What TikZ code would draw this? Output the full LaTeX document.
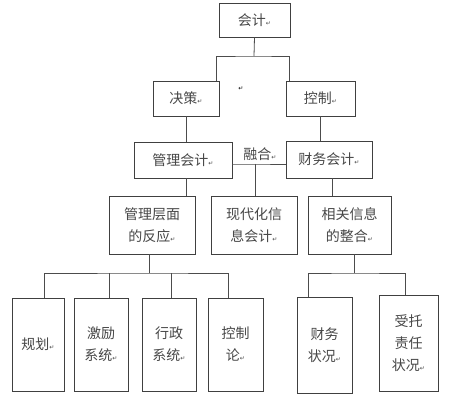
\documentclass[tikz,border=0pt]{standalone}
\usepackage{fontspec}
\newfontfamily\cjk{Noto Sans CJK SC}
\newfontfamily\djv{DejaVu Sans}
\newcommand\retmk{{\djv\fontsize{6}{6}\selectfont ↵}}
\begin{document}
\begin{tikzpicture}[x=1pt,y=-1pt,
  box/.style={draw=black!75, line width=0.9pt, fill=white, inner sep=0pt, align=center,
    font=\cjk\fontsize{14}{22}\selectfont, text=black!72},
  ln/.style={draw=black!70, line width=0.8pt},
  lbl/.style={inner sep=0pt, font=\cjk\fontsize{14}{22}\selectfont, text=black!72}]
\useasboundingbox[fill=white] (0,0) rectangle (450,401);
% boxes
\node[box, minimum width=71, minimum height=34] (kj) at (254.5,20) {会计\retmk};
\node[box, minimum width=66, minimum height=35] (jc) at (186,98.5) {决策\retmk};
\node[box, minimum width=69, minimum height=35] (kz) at (320.5,98.5) {控制\retmk};
\node[box, minimum width=98, minimum height=36] (glkj) at (183,160) {管理会计\retmk};
\node[box, minimum width=86, minimum height=37] (cwkj) at (329,159.5) {财务会计\retmk};
\node[box, minimum width=86, minimum height=58] (glcm) at (152,225) {管理层面\\的反应\retmk};
\node[box, minimum width=86, minimum height=58] (xdh) at (254,225) {现代化信\\息会计\retmk};
\node[box, minimum width=83, minimum height=58] (xgxx) at (349.5,225) {相关信息\\的整合\retmk};
\node[box, minimum width=52, minimum height=93] (gh) at (38,344.5) {规划\retmk};
\node[box, minimum width=54, minimum height=93] (jl) at (101,344.5) {激励\\系统\retmk};
\node[box, minimum width=54, minimum height=93] (xz) at (169,344.5) {行政\\系统\retmk};
\node[box, minimum width=55, minimum height=93] (kzl) at (235.5,344.5) {控制\\论\retmk};
\node[box, minimum width=55, minimum height=96] (cwzk) at (324.5,345) {财务\\状况\retmk};
\node[box, minimum width=59, minimum height=96] (stzr) at (408.5,343) {受托\\责任\\状况\retmk};
% labels
\node[lbl] (rh) at (260,154) {融合\retmk};
\node[inner sep=0pt] (stray) at (241,89) {\retmk};
% connectors
\coordinate (t1) at (254,56);
\draw[ln] (kj.south) -- (t1);
\draw[ln] ([xshift=-3pt]jc.north east) |- (t1) -| ([xshift=4pt]kz.north west);
\draw[ln] (jc.south) -- (jc.south |- glkj.north);
\draw[ln] (kz.south) -- (kz.south |- cwkj.north);
\coordinate (m1) at (255,164);
\draw[ln] ([yshift=-4pt]glkj.east) -- (m1) -- (cwkj.west |- m1);
\draw[ln] (m1) -- (m1 |- xdh.north);
\draw[ln] ([xshift=3pt]glkj.south) -- ([xshift=3pt]glkj.south |- glcm.north);
\draw[ln] ([xshift=3pt]cwkj.south) -- ([xshift=3pt]cwkj.south |- xgxx.north);
\coordinate (b1) at (149,273);
\draw[ln] ([xshift=-3pt]glcm.south) -- (b1);
\draw[ln] ([xshift=6pt]gh.north) |- (b1) -| ([xshift=-7.5pt]kzl.north);
\draw[ln] ([xshift=8pt]jl.north) -- ([xshift=8pt]jl.north |- b1);
\draw[ln] ([xshift=2pt]xz.north) -- ([xshift=2pt]xz.north |- b1);
\coordinate (b2) at (354,273);
\draw[ln] ([xshift=4.5pt]xgxx.south) -- (b2);
\draw[ln] ([xshift=-16.5pt]cwzk.north) |- (b2) -| ([xshift=-3.5pt]stzr.north);
\end{tikzpicture}
\end{document}
